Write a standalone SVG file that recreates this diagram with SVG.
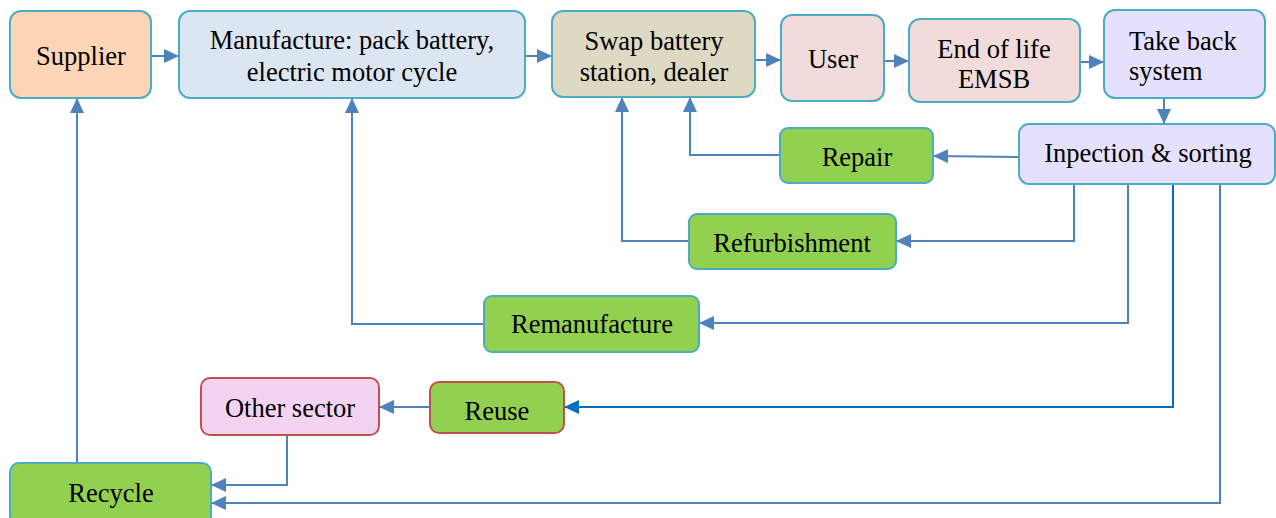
<svg xmlns="http://www.w3.org/2000/svg" width="1276" height="518" viewBox="0 0 1276 518">
  <style>
    .box { stroke: #4BACC6; stroke-width: 2; }
    .red { stroke: #C0504D; stroke-width: 2; }
    .peach { fill: #FBD5B5; }
    .blue { fill: #DCE6F2; }
    .tan { fill: #DDD9C3; }
    .rose { fill: #F2DCDB; }
    .lav { fill: #E5E0FB; }
    .green { fill: #92D050; }
    .pink { fill: #F2D4F2; }
    text { font-family: "Liberation Serif", "Times New Roman", serif; font-size: 26.5px; fill: #000; text-anchor: middle; }
    .wire { fill: none; stroke: #4F81BD; stroke-width: 2; }
    .wire2 { fill: none; stroke: #0070C0; stroke-width: 2; }
  </style>
  <defs>
    <marker id="arr" markerWidth="15" markerHeight="14" refX="14" refY="7" orient="auto" markerUnits="userSpaceOnUse">
      <path d="M0,0 L15,7 L0,14 Z" fill="#4F81BD"/>
    </marker>
    <marker id="arr2" markerWidth="15" markerHeight="14" refX="14" refY="7" orient="auto" markerUnits="userSpaceOnUse">
      <path d="M0,0 L15,7 L0,14 Z" fill="#0070C0"/>
    </marker>
  </defs>

  <rect width="1276" height="518" fill="#FFFFFF"/>

  <!-- connectors -->
  <g id="connectors">
    <path class="wire" d="M151,56 H178" marker-end="url(#arr)"/>
    <path class="wire" d="M525,56 H551" marker-end="url(#arr)"/>
    <path class="wire" d="M755,60 H780" marker-end="url(#arr)"/>
    <path class="wire" d="M884,61 H908" marker-end="url(#arr)"/>
    <path class="wire" d="M1080,62 H1103" marker-end="url(#arr)"/>
    <path class="wire" d="M1164,98 V123" marker-end="url(#arr)"/>
    <path class="wire" d="M1019,157 L934,156" marker-end="url(#arr)"/>
    <path class="wire" d="M780,155 H690 V98" marker-end="url(#arr)"/>
    <path class="wire" d="M1074,184 V241 H897" marker-end="url(#arr)"/>
    <path class="wire" d="M689,241 H622 V98" marker-end="url(#arr)"/>
    <path class="wire" d="M1128,184 V323 H700" marker-end="url(#arr)"/>
    <path class="wire" d="M484,324 H352 V99" marker-end="url(#arr)"/>
    <path class="wire2" d="M1173,184 V407 H565" marker-end="url(#arr2)"/>
    <path class="wire" d="M430,407 H380" marker-end="url(#arr)"/>
    <path class="wire" d="M287,435 V485 H212" marker-end="url(#arr)"/>
    <path class="wire" d="M1220,184 V503 H212" marker-end="url(#arr)"/>
    <path class="wire" d="M77,463 V99" marker-end="url(#arr)"/>
  </g>

  <g id="supplier">
    <rect class="box peach" x="10" y="11" width="141" height="87" rx="11"/>
    <text x="81" y="65">Supplier</text>
  </g>
  <g id="manufacture">
    <rect class="box blue" x="179" y="11" width="346" height="87" rx="11"/>
    <text x="352" y="49">Manufacture: pack battery,</text>
    <text x="352" y="81">electric motor cycle</text>
  </g>
  <g id="swap">
    <rect class="box tan" x="552" y="11" width="203" height="86" rx="11"/>
    <text x="654" y="50">Swap battery</text>
    <text x="654" y="81">station, dealer</text>
  </g>
  <g id="user">
    <rect class="box rose" x="781" y="15" width="103" height="86" rx="11"/>
    <text x="833" y="68">User</text>
  </g>
  <g id="end-of-life">
    <rect class="box rose" x="909" y="19" width="171" height="83" rx="11"/>
    <text x="994" y="58">End of life</text>
    <text x="994" y="88">EMSB</text>
  </g>
  <g id="take-back">
    <rect class="box lav" x="1104" y="10" width="161" height="88" rx="11"/>
    <text x="1129" y="50" style="text-anchor:start">Take back</text>
    <text x="1129" y="80" style="text-anchor:start">system</text>
  </g>
  <g id="inspection">
    <rect class="box lav" x="1019" y="124" width="256" height="60" rx="10"/>
    <text x="1148" y="162">Inpection &amp; sorting</text>
  </g>
  <g id="repair">
    <rect class="box green" x="780" y="128" width="153" height="55" rx="8"/>
    <text x="857" y="166">Repair</text>
  </g>
  <g id="refurbishment">
    <rect class="box green" x="689" y="214" width="207" height="55" rx="8"/>
    <text x="792" y="252">Refurbishment</text>
  </g>
  <g id="remanufacture">
    <rect class="box green" x="484" y="296" width="215" height="56" rx="8"/>
    <text x="592" y="333">Remanufacture</text>
  </g>
  <g id="other-sector">
    <rect class="red pink" x="201" y="378" width="178" height="57" rx="9"/>
    <text x="290" y="417">Other sector</text>
  </g>
  <g id="reuse">
    <rect class="red green" x="430" y="382" width="134" height="51" rx="9"/>
    <text x="497" y="420">Reuse</text>
  </g>
  <g id="recycle">
    <rect class="box green" x="10" y="463" width="201" height="62" rx="9"/>
    <text x="111" y="502">Recycle</text>
  </g>
</svg>
